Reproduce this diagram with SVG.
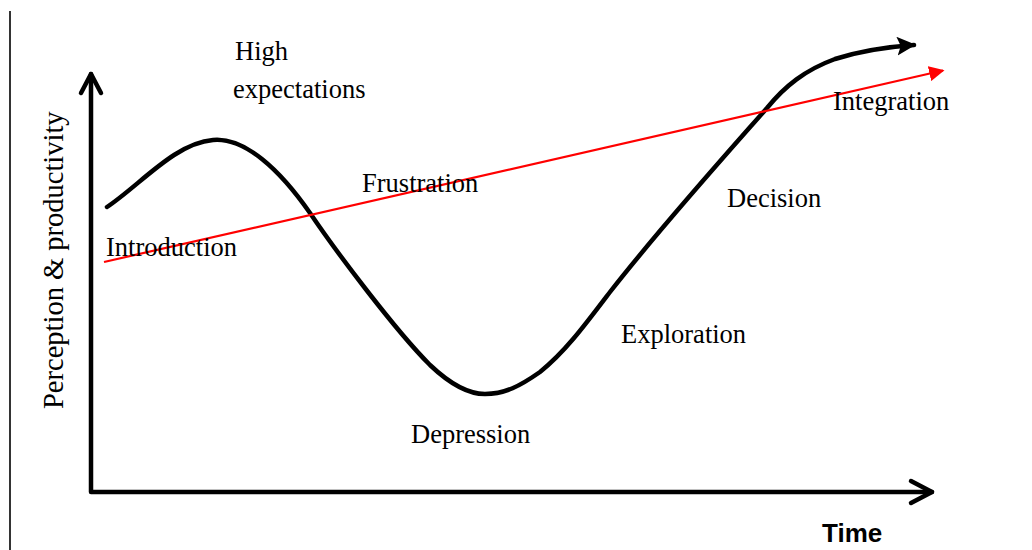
<svg xmlns="http://www.w3.org/2000/svg" width="1032" height="550" viewBox="0 0 1032 550">
  <defs>
    <style>
      .lbl { font-family: "Liberation Serif", "Times New Roman", serif; font-size: 26.5px; fill: #000; }
      .axis { fill: none; stroke: #000; stroke-width: 4.5; stroke-linecap: round; stroke-linejoin: round; }
      .curve { fill: none; stroke: #000; stroke-width: 4.5; stroke-linecap: round; }
      .trend { fill: none; stroke: #ff0000; stroke-width: 2.2; }
    </style>
    <marker id="blackHead" viewBox="0 0 10 10" refX="9" refY="5" markerWidth="4.2" markerHeight="4.2" orient="auto" markerUnits="strokeWidth">
      <path d="M0,0 L10,5 L0,10 L2,5 Z" fill="#000"/>
    </marker>
    <marker id="redHead" viewBox="0 0 10 10" refX="9" refY="5" markerWidth="7" markerHeight="7" orient="auto" markerUnits="strokeWidth">
      <path d="M0,0 L10,5 L0,10 Z" fill="#ff0000"/>
    </marker>
  </defs>
  <rect width="1032" height="550" fill="#fff"/>
  <line x1="10" y1="11" x2="10" y2="550" stroke="#000" stroke-width="1.6"/>

  <g id="connectors">
    <g id="axes">
      <polyline class="axis" points="91,74 91,492 932,492"/>
      <polyline class="axis" points="81,93 91,74 101,93"/>
      <polyline class="axis" points="911,481 932,492 911,503"/>
    </g>
    <path id="curve" class="curve" marker-end="url(#blackHead)" d="M107,207 C140,185 175,143 213,140 C245,137 280,170 310,213 C335,250 395,330 430,365 C450,384 468,394 485,394 C505,394 520,386 540,372 C565,352 585,325 610,292 C660,228 730,150 767,108 C785,86 805,70 835,59 C860,51 885,47 914,45"/>
    <line id="trend" class="trend" marker-end="url(#redHead)" x1="104" y1="262" x2="943" y2="70.5"/>
  </g>

  <g id="node-high-expectations">
    <text class="lbl" x="235" y="60">High</text>
    <text class="lbl" x="233" y="98">expectations</text>
  </g>
  <g id="node-introduction"><text class="lbl" x="106" y="256">Introduction</text></g>
  <g id="node-frustration"><text class="lbl" x="362" y="192">Frustration</text></g>
  <g id="node-depression"><text class="lbl" x="411" y="443">Depression</text></g>
  <g id="node-exploration"><text class="lbl" x="621" y="343">Exploration</text></g>
  <g id="node-decision"><text class="lbl" x="727" y="207">Decision</text></g>
  <g id="node-integration"><text class="lbl" x="833" y="110">Integration</text></g>
  <g id="axis-y-label"><text class="lbl" style="font-size:28.5px" transform="translate(63,409) rotate(-90)">Perception &amp; productivity</text></g>
  <g id="axis-x-label"><text x="822" y="542" style="font-family:'Liberation Sans', Arial, sans-serif; font-weight:bold; font-size:26px" fill="#000">Time</text></g>
</svg>
